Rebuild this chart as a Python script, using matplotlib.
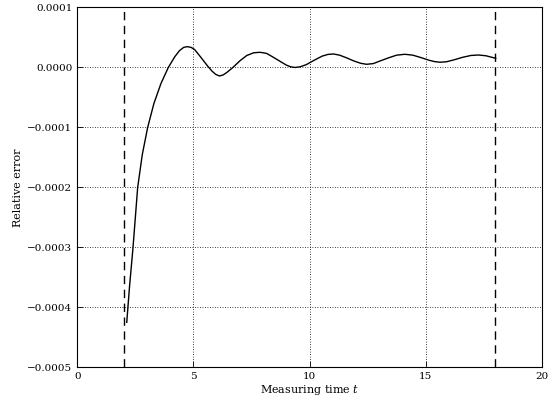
import matplotlib
matplotlib.use('Agg')
import matplotlib.pyplot as plt

# Relative error curve (y in units of 1e-4)
t_vals = [2.13, 2.25, 2.40, 2.60, 2.80, 3.03, 3.30, 3.60, 3.92, 4.20, 4.40,
          4.58, 4.74, 4.90, 5.05, 5.30, 5.60, 5.80, 5.96, 6.12, 6.28, 6.45,
          6.70, 7.00, 7.30, 7.60, 7.87, 8.15, 8.40, 8.70, 9.00, 9.20, 9.38,
          9.60, 9.85, 10.20, 10.55, 10.80, 11.03, 11.30, 11.60, 11.90, 12.20,
          12.46, 12.75, 13.05, 13.40, 13.75, 14.11, 14.45, 14.80, 15.15,
          15.40, 15.62, 15.90, 16.25, 16.60, 16.95, 17.27, 17.60, 18.02]
err_e4 = [-4.25, -3.65, -3.00, -2.00, -1.45, -1.00, -0.60, -0.27, 0.00, 0.18,
          0.28, 0.335, 0.347, 0.335, 0.30, 0.18, 0.03, -0.06, -0.115, -0.142,
          -0.125, -0.08, 0.00, 0.11, 0.20, 0.245, 0.253, 0.235, 0.18, 0.11,
          0.04, 0.01, 0.00, 0.012, 0.045, 0.12, 0.19, 0.218, 0.225, 0.205,
          0.16, 0.11, 0.07, 0.053, 0.065, 0.11, 0.16, 0.205, 0.22, 0.205,
          0.165, 0.12, 0.097, 0.087, 0.095, 0.13, 0.17, 0.200, 0.208, 0.195,
          0.153]
rel_err = [v * 1e-4 for v in err_e4]

# measurement window
window = [2, 18]

plt.rcParams['font.family'] = 'DejaVu Serif'
plt.rcParams['mathtext.fontset'] = 'dejavuserif'

fig = plt.figure(figsize=(5.55, 4.03), dpi=100)
ax = fig.add_axes([77.3 / 555, 1 - 367.3 / 403, (541.7 - 77.3) / 555, (367.3 - 7.5) / 403])

ax.plot(t_vals, rel_err, color='black', linewidth=1.0)
for w in window:
    ax.axvline(w, color='black', linestyle=(0, (6, 4)), linewidth=1.0)

ax.set_xlim(0, 20)
ax.set_ylim(-0.0005, 0.0001)
ax.set_xticks([0, 5, 10, 15, 20])
ax.set_yticks([-0.0005, -0.0004, -0.0003, -0.0002, -0.0001, 0.0, 0.0001])
ax.set_yticklabels(['\u22120.0005', '\u22120.0004', '\u22120.0003', '\u22120.0002',
                    '\u22120.0001', '0.0000', '0.0001'])
ax.tick_params(direction='in', labelsize=7.5, length=4, width=0.6)
ax.grid(True, linestyle=(0, (1, 2)), color='black', linewidth=0.6)

ax.set_xlabel('Measuring time $t$', fontsize=8, labelpad=1)
ax.set_ylabel('Relative error', fontsize=8, labelpad=3)

fig.savefig('out.png', dpi=100, facecolor='white')
